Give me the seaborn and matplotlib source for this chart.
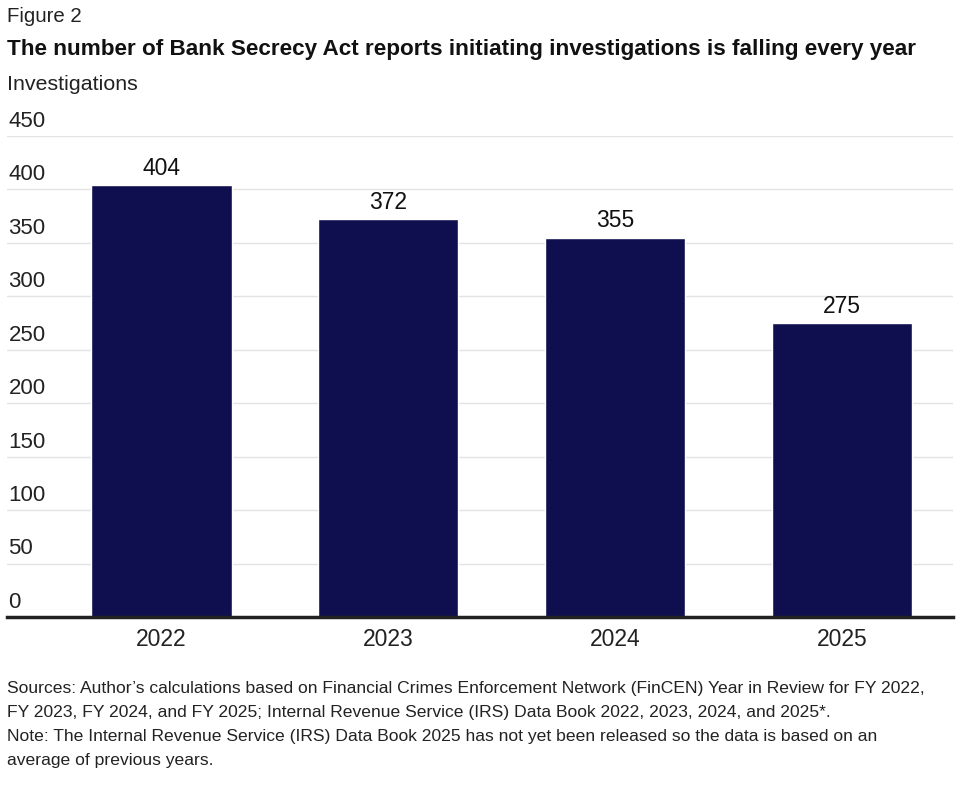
import numpy as np
import pandas as pd
import matplotlib
matplotlib.use('Agg')
import matplotlib.pyplot as plt
import seaborn as sns

# Data
years = ['2022', '2023', '2024', '2025']
investigations = [404, 372, 355, 275]
y_ticks = [0, 50, 100, 150, 200, 250, 300, 350, 400, 450]

bar_color = '#0f0f4f'
text_color = '#222222'

sns.set_style('white')
plt.rcParams['font.family'] = ['Liberation Sans', 'DejaVu Sans']

df = pd.DataFrame({'year': years, 'count': investigations})

fig = plt.figure(figsize=(9.73, 7.88), dpi=100)
W, H = 973, 788
ax = fig.add_axes([7 / W, (H - 617) / H, 946 / W, (617 - 136) / H])

sns.barplot(data=df, x='year', y='count', color=bar_color, saturation=1,
            width=0.62, ax=ax)

ax.set_xlim(-0.68, 3.49)
ax.set_ylim(0, 450)
ax.set_yticks(y_ticks)
ax.yaxis.grid(True, color='#e3e3e3', linewidth=1)
ax.set_axisbelow(True)
ax.set_yticklabels([])
ax.tick_params(axis='y', length=0)
ax.tick_params(axis='x', length=0, pad=8, labelsize=16.5, labelcolor=text_color)
ax.set_xlabel('')
ax.set_ylabel('')

for side in ['top', 'left', 'right']:
    ax.spines[side].set_visible(False)
ax.spines['bottom'].set_color('#222222')
ax.spines['bottom'].set_linewidth(2.5)

# y tick labels sit inside the plot, just above each gridline
for t in y_ticks:
    ax.annotate(str(t), xy=(0, t), xycoords=('axes fraction', 'data'),
                xytext=(1, 3), textcoords='offset points',
                ha='left', va='bottom', fontsize=16, color=text_color)

# value labels above the bars
for i, v in enumerate(investigations):
    ax.annotate(str(v), xy=(i, v), xytext=(0, 4), textcoords='offset points',
                ha='center', va='bottom', fontsize=16.5, color='#111111')

fig.text(7 / W, 1 - 16 / H, 'Figure 2', fontsize=14.7, color=text_color,
         ha='left', va='center')
fig.text(7 / W, 1 - 49 / H,
         'The number of Bank Secrecy Act reports initiating investigations is falling every year',
         fontsize=16.2, fontweight='bold', color='#111111', ha='left', va='center')
fig.text(7 / W, 1 - 84 / H, 'Investigations', fontsize=15.4, color=text_color,
         ha='left', va='center')

source_lines = [
    "Sources: Author\u2019s calculations based on Financial Crimes Enforcement Network (FinCEN) Year in Review for FY 2022,",
    "FY 2023, FY 2024, and FY 2025; Internal Revenue Service (IRS) Data Book 2022, 2023, 2024, and 2025*.",
    "Note: The Internal Revenue Service (IRS) Data Book 2025 has not yet been released so the data is based on an",
    "average of previous years.",
]
for k, line in enumerate(source_lines):
    fig.text(7 / W, 1 - (689 + 23.7 * k) / H, line, fontsize=12.6,
             color=text_color, ha='left', va='center')

fig.savefig('out.png', dpi=100)
